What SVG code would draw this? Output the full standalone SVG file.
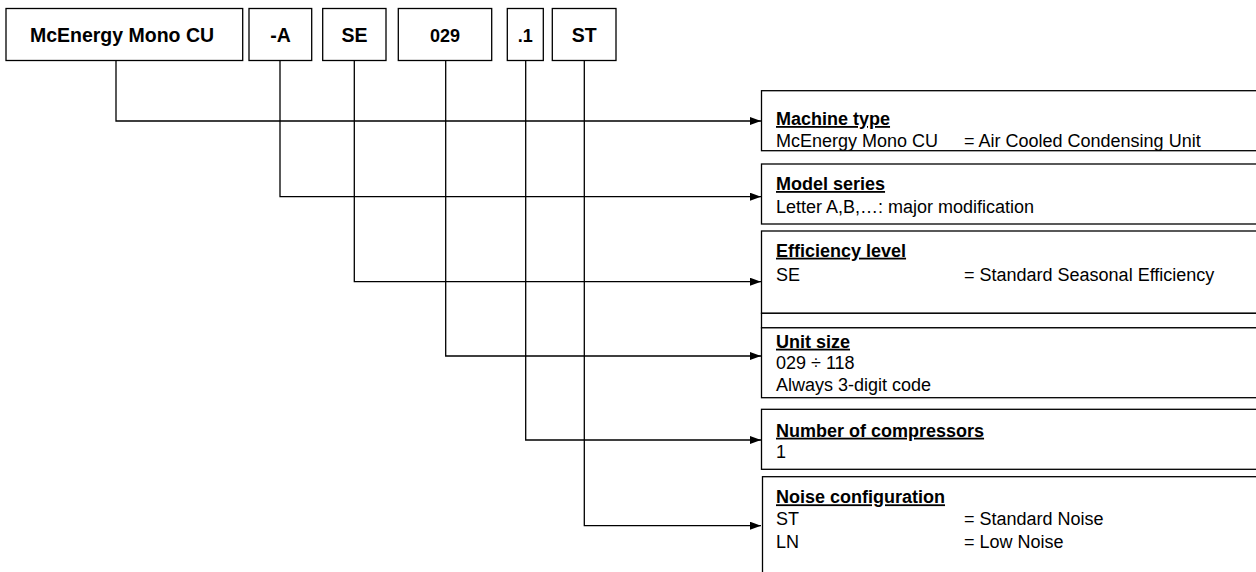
<svg xmlns="http://www.w3.org/2000/svg" width="1256" height="572" viewBox="0 0 1256 572">
<defs>
<style>
.box{fill:#fff;stroke:#000;stroke-width:1.3}
.code{font-family:"Liberation Sans",Arial,sans-serif;font-weight:bold;font-size:19.5px;fill:#000;text-anchor:middle}
.h{font-family:"Liberation Sans",Arial,sans-serif;font-weight:bold;font-size:18px;fill:#000;text-decoration:underline}
.t{font-family:"Liberation Sans",Arial,sans-serif;font-size:18px;fill:#000}
.conn{fill:none;stroke:#000;stroke-width:1.3;marker-end:url(#arr)}
</style>
<marker id="arr" markerUnits="userSpaceOnUse" markerWidth="11" markerHeight="8" refX="11" refY="4" orient="auto">
<path d="M0,0 L11,4 L0,8 z" fill="#000"/>
</marker>
</defs>
<rect width="1256" height="572" fill="#fff"/>

<g id="code-machine"><rect class="box" x="6" y="8.5" width="236.7" height="52"/><text class="code" x="122" y="41.5">McEnergy Mono CU</text></g>
<g id="code-series"><rect class="box" x="249" y="8.5" width="62.7" height="52"/><text class="code" x="280.5" y="41.5">-A</text></g>
<g id="code-efficiency"><rect class="box" x="322.7" y="8.5" width="63.3" height="52"/><text class="code" x="354.4" y="41.5">SE</text></g>
<g id="code-size"><rect class="box" x="398.3" y="8.5" width="93.4" height="52"/><text class="code" x="445" y="41.5" style="font-size:18px">029</text></g>
<g id="code-compressors"><rect class="box" x="507.3" y="8.5" width="36" height="52"/><text class="code" x="525.3" y="41.5" style="font-size:18px">.1</text></g>
<g id="code-noise"><rect class="box" x="552.3" y="8.5" width="63.7" height="52"/><text class="code" x="584.2" y="41.5">ST</text></g>

<g id="connectors">
<path class="conn" d="M116,60.5 V121 H761"/>
<path class="conn" d="M280,60.5 V196.7 H761"/>
<path class="conn" d="M354.3,60.5 V281.7 H761"/>
<path class="conn" d="M445.7,60.5 V356 H761"/>
<path class="conn" d="M525.7,60.5 V440 H761"/>
<path class="conn" d="M584.3,60.5 V525.7 H761"/>
</g>

<g id="machine-type"><rect class="box" x="761.5" y="90.7" width="520" height="60"/>
<text class="h" x="776" y="125">Machine type</text>
<text class="t" x="776" y="147">McEnergy Mono CU</text><text class="t" x="964" y="147">= Air Cooled Condensing Unit</text></g>

<g id="model-series"><rect class="box" x="761.5" y="164" width="520" height="60"/>
<text class="h" x="776" y="190">Model series</text>
<text class="t" x="776" y="213">Letter A,B,…: major modification</text></g>

<g id="efficiency-level"><rect class="box" x="761.5" y="231" width="520" height="82.3"/>
<rect class="box" x="761.5" y="313.3" width="520" height="14.5"/>
<text class="h" x="776" y="256.7">Efficiency level</text>
<text class="t" x="776" y="280.7">SE</text><text class="t" x="964" y="280.7">= Standard Seasonal Efficiency</text></g>

<g id="unit-size"><rect class="box" x="761.5" y="327.8" width="520" height="69.9"/>
<text class="h" x="776" y="347.7">Unit size</text>
<text class="t" x="776" y="369">029 ÷ 118</text>
<text class="t" x="776" y="390.7">Always 3-digit code</text></g>

<g id="compressors"><rect class="box" x="761.5" y="409.3" width="520" height="60"/>
<text class="h" x="776" y="436.7">Number of compressors</text>
<text class="t" x="776" y="457.7">1</text></g>

<g id="noise"><rect class="box" x="762.5" y="476.7" width="520" height="120"/>
<text class="h" x="776" y="503.3">Noise configuration</text>
<text class="t" x="776" y="525">ST</text><text class="t" x="964" y="525">= Standard Noise</text>
<text class="t" x="776" y="548.3">LN</text><text class="t" x="964" y="548.3">= Low Noise</text></g>
</svg>
